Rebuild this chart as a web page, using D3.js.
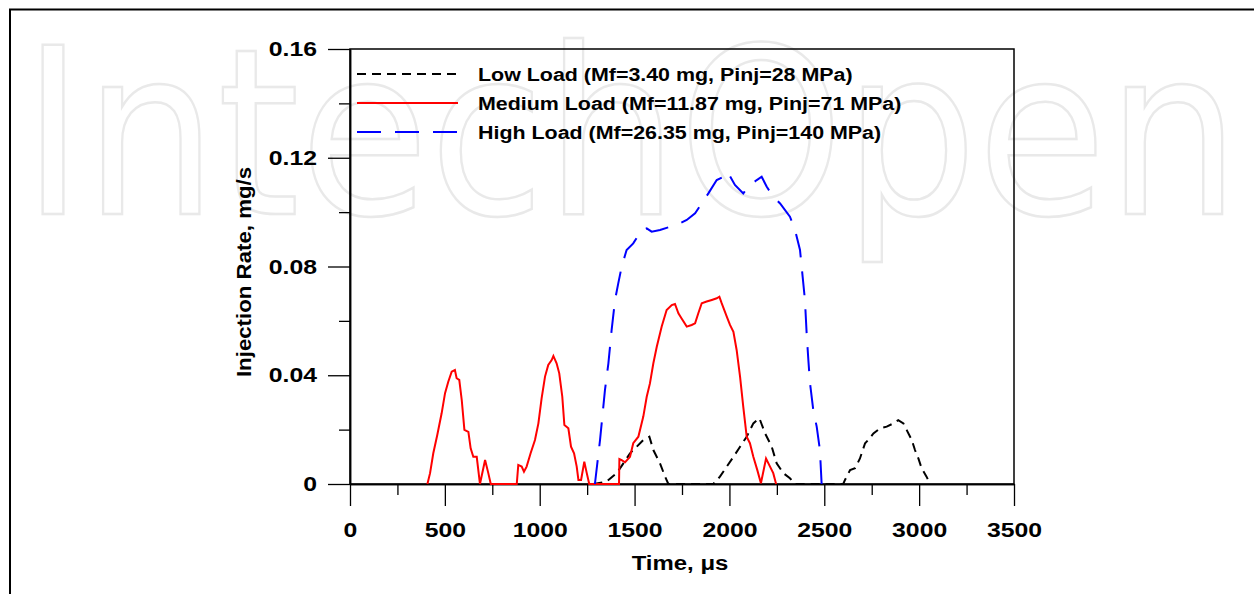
<!DOCTYPE html>
<html>
<head>
<meta charset="utf-8">
<script src="https://cdn.jsdelivr.net/npm/d3@7"></script>
<style>
  body { margin: 0; background: #fff; }
  text { font-family: "Liberation Sans", Arial, sans-serif; font-weight: bold; }
</style>
</head>
<body>
<div id="canvas"></div>
<script>
// data (time in µs, rate in mg/s)
const lowTime = [1283, 1353, 1406, 1441, 1476, 1511, 1546, 1578, 1599, 1634, 1661, 1678, 1915, 1950, 1986, 2021, 2056, 2091, 2126, 2158, 2188, 2223, 2249, 2284, 2319, 2346, 2600, 2609, 2636, 2662, 2688, 2715, 2732, 2759, 2794, 2829, 2864, 2890, 2917, 2934, 2961, 2978, 2996, 3013, 3039, 3057];
const lowRate = [0, 0.0009, 0.004, 0.0076, 0.0113, 0.0137, 0.0162, 0.0174, 0.0125, 0.0076, 0.0027, 0, 0, 0.0027, 0.0064, 0.010, 0.0137, 0.0174, 0.0223, 0.0242, 0.0186, 0.0137, 0.0076, 0.004, 0.0021, 0, 0, 0.0015, 0.0051, 0.0058, 0.0094, 0.015, 0.0162, 0.0186, 0.0205, 0.0211, 0.0223, 0.0235, 0.0223, 0.0199, 0.0162, 0.0125, 0.0094, 0.0058, 0.0027, 0];

const medTime = [408, 422, 439, 460, 483, 501, 518, 536, 553, 562, 576, 589, 603, 624, 636, 650, 668, 685, 712, 729, 742, 879, 887, 905, 917, 931, 952, 975, 993, 1010, 1028, 1045, 1063, 1072, 1089, 1103, 1119, 1130, 1151, 1165, 1181, 1195, 1204, 1218, 1235, 1248, 1261, 1418, 1420, 1432, 1450, 1476, 1493, 1520, 1546, 1564, 1581, 1599, 1617, 1643, 1669, 1696, 1713, 1731, 1748, 1775, 1801, 1819, 1836, 1854, 1880, 1907, 1933, 1947, 1959, 1986, 2003, 2021, 2038, 2056, 2073, 2091, 2108, 2126, 2147, 2166, 2193, 2214, 2231, 2246];
const medRate = [0, 0.004, 0.0113, 0.018, 0.026, 0.0334, 0.0376, 0.0413, 0.0419, 0.0389, 0.0383, 0.0309, 0.0199, 0.0192, 0.0131, 0.010, 0.010, 0, 0.0088, 0.004, 0, 0, 0.007, 0.0064, 0.0045, 0.0064, 0.0113, 0.0162, 0.0223, 0.0315, 0.0395, 0.0438, 0.0456, 0.0471, 0.0444, 0.0407, 0.0321, 0.0217, 0.0205, 0.0137, 0.0113, 0.0064, 0.0015, 0.0015, 0.0082, 0.004, 0, 0, 0.0092, 0.0088, 0.0080, 0.0100, 0.015, 0.0174, 0.0248, 0.0321, 0.037, 0.0444, 0.0505, 0.0579, 0.064, 0.0658, 0.0662, 0.0628, 0.0609, 0.0579, 0.0585, 0.0591, 0.0628, 0.0665, 0.0671, 0.0677, 0.0683, 0.0689, 0.0665, 0.0616, 0.0585, 0.056, 0.0493, 0.0395, 0.0284, 0.0174, 0.015, 0.010, 0.0051, 0.0003, 0.0094, 0.0064, 0.004, 0];

const highTime = [1291, 1318, 1344, 1362, 1379, 1397, 1414, 1432, 1458, 1493, 1537, 1564, 1590, 1634, 1687, 1740, 1775, 1819, 1854, 1889, 1933, 1968, 1989, 2029, 2073, 2100, 2144, 2170, 2196, 2231, 2267, 2319, 2346, 2372, 2386, 2398, 2407, 2416, 2425, 2442, 2460, 2477, 2486];
const highRate = [0, 0.0162, 0.0346, 0.0444, 0.0566, 0.0677, 0.0738, 0.0799, 0.0861, 0.0885, 0.0934, 0.094, 0.0928, 0.0934, 0.0946, 0.0959, 0.0971, 0.0996, 0.1032, 0.1069, 0.1118, 0.113, 0.1149, 0.110, 0.1069, 0.1094, 0.1118, 0.113, 0.1094, 0.1057, 0.1032, 0.0983, 0.0934, 0.0861, 0.0762, 0.0677, 0.0554, 0.0456, 0.037, 0.0272, 0.0211, 0.0125, 0];

const legendLabels = ["Low Load (Mf=3.40 mg, Pinj=28 MPa)", "Medium Load (Mf=11.87 mg, Pinj=71 MPa)", "High Load (Mf=26.35 mg, Pinj=140 MPa)"];
const xTicks = [0, 500, 1000, 1500, 2000, 2500, 3000, 3500];
const xMinor = [250, 750, 1250, 1750, 2250, 2750, 3250];
const yTicks = [0, 0.04, 0.08, 0.12, 0.16];
const yMinor = [0.02, 0.06, 0.10, 0.14];

const width = 1254, height = 594;
const margin = { top: 49, right: 240, bottom: 110, left: 350 };
const graphWidth = width - margin.left - margin.right;
const graphHeight = height - margin.top - margin.bottom;

const svg = d3.select("#canvas").append("svg")
    .attr("width", width)
    .attr("height", height);

// watermark behind everything
svg.append("text")
    .attr("x", 22)
    .attr("y", 214)
    .attr("textLength", 1218)
    .attr("lengthAdjust", "spacingAndGlyphs")
    .style("font-family", "'DejaVu Sans', sans-serif")
    .style("font-weight", "normal")
    .style("font-size", "232px")
    .style("fill", "none")
    .style("stroke", "#e9e9e9")
    .style("stroke-width", 2.5)
    .text("IntechOpen");

// outer frame (top and left edges visible)
svg.append("path")
    .attr("d", "M10,600 V9.5 H1260")
    .attr("fill", "none")
    .attr("stroke", "black")
    .attr("stroke-width", 2);

const graph = svg.append("g")
    .attr("transform", `translate(${margin.left},${margin.top})`);

const x = d3.scaleLinear().domain([0, 3500]).range([0, graphWidth]);
const y = d3.scaleLinear().domain([0, 0.16]).range([graphHeight, 0]);

// plot box
graph.append("rect")
    .attr("width", graphWidth)
    .attr("height", graphHeight)
    .attr("fill", "none")
    .attr("stroke", "black")
    .attr("stroke-width", 1.5);

// the original text is a bit wider than Liberation Sans Bold
const stretch = 1.18;

// axes
const xAxisGroup = graph.append("g").attr("transform", `translate(0,${graphHeight})`);
xAxisGroup.call(d3.axisBottom(x).tickValues(xTicks).tickSize(22).tickSizeOuter(0).tickPadding(16).tickFormat(d3.format("d")));
graph.append("g").attr("transform", `translate(0,${graphHeight})`)
    .call(d3.axisBottom(x).tickValues(xMinor).tickSize(11).tickSizeOuter(0).tickFormat(""));

const yAxisGroup = graph.append("g");
yAxisGroup.call(d3.axisLeft(y).tickValues(yTicks).tickSize(22).tickSizeOuter(0).tickPadding(11).tickFormat(d => d === 0 ? "0" : d3.format(".2f")(d)));
graph.append("g")
    .call(d3.axisLeft(y).tickValues(yMinor).tickSize(11).tickSizeOuter(0).tickFormat(""));

graph.selectAll(".domain").attr("stroke-width", 1.5);
graph.selectAll(".tick line").attr("stroke-width", 1.3);
graph.selectAll(".tick text")
    .style("font-size", "21px")
    .style("font-weight", "bold")
    .style("font-family", "'Liberation Sans', Arial, sans-serif")
    .attr("fill", "black")
    .attr("transform", `scale(${stretch},1)`);
yAxisGroup.selectAll(".tick text").attr("x", -33 / stretch);

// curves
const line = d3.line().x(d => x(d[0])).y(d => y(d[1]));
const series = [
    { t: lowTime, v: lowRate, color: "black", dash: "9,6" },
    { t: medTime, v: medRate, color: "#ff0000", dash: null },
    { t: highTime, v: highRate, color: "#0000ff", dash: "24,14" }
];

graph.selectAll("path.curve")
    .data(series)
    .enter()
    .append("path")
    .attr("class", "curve")
    .attr("d", s => line(s.t.map((t, i) => [t, s.v[i]])))
    .attr("fill", "none")
    .attr("stroke", s => s.color)
    .attr("stroke-width", 2)
    .attr("stroke-dasharray", s => s.dash);

// legend
const legend = svg.append("g").attr("transform", "translate(357,74)");
legend.selectAll("line")
    .data(series)
    .enter()
    .append("line")
    .attr("x1", 0)
    .attr("x2", 101)
    .attr("y1", (d, i) => i * 29)
    .attr("y2", (d, i) => i * 29)
    .attr("stroke", d => d.color)
    .attr("stroke-width", 2)
    .attr("stroke-dasharray", d => d.dash);
legend.selectAll("text")
    .data(legendLabels)
    .enter()
    .append("text")
    .attr("transform", (d, i) => `translate(121,${i * 29 + 6.5}) scale(1.19,1)`)
    .style("font-size", "18px")
    .text(d => d);

// axis titles
svg.append("text")
    .attr("transform", `translate(${margin.left + graphWidth / 2 - 2},570) scale(1.14,1)`)
    .attr("text-anchor", "middle")
    .style("font-size", "21px")
    .text("Time, μs");

svg.append("text")
    .attr("transform", "translate(251,272) rotate(-90) scale(1.06,1)")
    .attr("text-anchor", "middle")
    .style("font-size", "21px")
    .text("Injection Rate, mg/s");
</script>
</body>
</html>
